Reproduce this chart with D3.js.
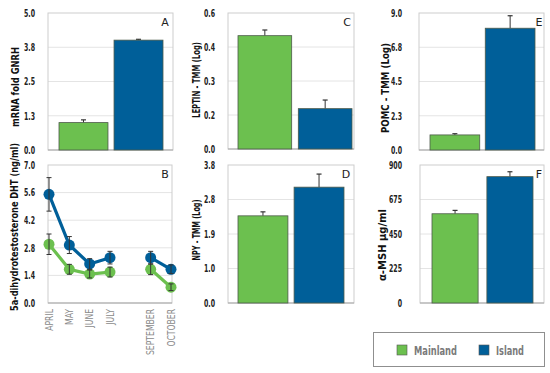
<!DOCTYPE html>
<html>
<head>
<meta charset="utf-8">
<script src="https://cdn.jsdelivr.net/npm/d3@7"></script>
<style>
  body { margin: 0; background: #fff; }
  svg { display: block; font-family: "DejaVu Sans Condensed", "DejaVu Sans", sans-serif; }
  .tick-label { font-size: 10.5px; font-weight: bold; fill: #222; }
  .y-title { font-size: 11px; font-weight: bold; fill: #111; }
  .panel-letter { font-family: "DejaVu Sans", sans-serif; font-size: 11px; fill: #222; }
</style>
</head>
<body>
<svg id="chart" width="550" height="373"></svg>
<script>
// groups and colours
var groups = ["Mainland", "Island"];
var groupColors = ["#6cc04f", "#005f99"];

// A: mRNA fold GNRH
var gnrhMean = [1.0, 4.01];
var gnrhErr = [0.1, 0.03];
var gnrhTicks = [0, 1.25, 2.5, 3.75, 5];
var gnrhLabels = ["0.0", "1.3", "2.5", "3.8", "5.0"];

// B: DHT by month
var months = ["APRIL", "MAY", "JUNE", "JULY", "SEPTEMBER", "OCTOBER"];
var monthNum = [4, 5, 6, 7, 9, 10];
var dhtMainland = [2.98, 1.71, 1.47, 1.57, 1.71, 0.80];
var dhtMainlandErr = [0.52, 0.25, 0.2, 0.25, 0.27, 0.17];
var dhtIsland = [5.51, 2.94, 1.98, 2.30, 2.30, 1.71];
var dhtIslandErr = [0.85, 0.43, 0.27, 0.32, 0.32, 0.22];
var dhtTicks = [0, 1.4, 2.8, 4.2, 5.6, 7];
var dhtLabels = ["0.0", "1.4", "2.8", "4.2", "5.6", "7.0"];

// C: leptin
var leptinMean = [0.50, 0.178];
var leptinErr = [0.025, 0.038];
var leptinTicks = [0, 0.15, 0.3, 0.45, 0.6];
var leptinLabels = ["0.0", "0.2", "0.3", "0.4", "0.6"];

// D: NPY
var npyMean = [2.40, 3.19];
var npyErr = [0.11, 0.36];
var npyTicks = [0, 0.95, 1.9, 2.85, 3.8];
var npyLabels = ["0.0", "1.0", "1.9", "2.8", "3.8"];

// E: POMC
var pomcMean = [0.99, 8.0];
var pomcErr = [0.08, 0.82];
var pomcTicks = [0, 2.25, 4.5, 6.75, 9];
var pomcLabels = ["0.0", "2.3", "4.5", "6.8", "9.0"];

// F: alpha-MSH
var mshMean = [582, 824];
var mshErr = [22, 32];
var mshTicks = [0, 225, 450, 675, 900];
var mshLabels = ["0", "225", "450", "675", "900"];

var svg = d3.select("#chart");

// draws frame, grid and y tick labels for one panel, returns the y scale
function drawFrame(box, ticks, labels, letter, title) {
	var y = d3.scaleLinear().domain([ticks[0], ticks[ticks.length - 1]]).range([box.y1, box.y0]);
	var g = svg.append("g");

	g.selectAll("line.grid").data(ticks.slice(1, -1)).enter().append("line")
		.attr("x1", box.x0).attr("x2", box.x1)
		.attr("y1", function(d) { return y(d); }).attr("y2", function(d) { return y(d); })
		.attr("stroke", "#e4e4e4").attr("stroke-width", 1);

	g.append("rect")
		.attr("x", box.x0).attr("y", box.y0)
		.attr("width", box.x1 - box.x0).attr("height", box.y1 - box.y0)
		.attr("fill", "none").attr("stroke", "#cdcdcd").attr("stroke-width", 1);

	g.append("line")
		.attr("x1", box.x0).attr("x2", box.x1)
		.attr("y1", box.y1).attr("y2", box.y1)
		.attr("stroke", "#a8a8a8").attr("stroke-width", 1.2);

	// condensed tick labels
	g.selectAll("text.tick-label").data(ticks).enter().append("text")
		.attr("class", "tick-label")
		.attr("transform", function(d) { return "translate(" + (box.x0 - box.labelGap) + "," + y(d) + ") scale(0.66,1)"; })
		.attr("dy", "0.36em")
		.attr("text-anchor", "end")
		.text(function(d, i) { return labels[i]; });

	g.append("text").attr("class", "panel-letter")
		.attr("x", box.lx).attr("y", box.y0 + 13)
		.attr("text-anchor", "middle")
		.text(letter);

	g.append("text").attr("class", "y-title")
		.attr("transform", "translate(" + box.tx + "," + box.ty + ") rotate(-90)")
		.attr("text-anchor", "middle")
		.attr("textLength", box.tl)
		.attr("lengthAdjust", "spacingAndGlyphs")
		.text(title);

	return y;
}

function barPanel(box, bandRange, pad, mean, err, ticks, labels, letter, title) {
	var y = drawFrame(box, ticks, labels, letter, title);
	var x = d3.scaleBand().domain(groups).range(bandRange).paddingInner(pad);
	var g = svg.append("g");

	g.selectAll("line.err").data(groups).enter().append("line")
		.attr("x1", function(d) { return x(d) + x.bandwidth() / 2; })
		.attr("x2", function(d) { return x(d) + x.bandwidth() / 2; })
		.attr("y1", function(d, i) { return y(mean[i]); })
		.attr("y2", function(d, i) { return y(mean[i] + err[i]); })
		.attr("stroke", "#333").attr("stroke-width", 1);
	g.selectAll("line.cap").data(groups).enter().append("line")
		.attr("x1", function(d) { return x(d) + x.bandwidth() / 2 - 2.5; })
		.attr("x2", function(d) { return x(d) + x.bandwidth() / 2 + 2.5; })
		.attr("y1", function(d, i) { return y(mean[i] + err[i]); })
		.attr("y2", function(d, i) { return y(mean[i] + err[i]); })
		.attr("stroke", "#333").attr("stroke-width", 1.2);

	g.selectAll("rect").data(groups).enter().append("rect")
		.attr("x", function(d) { return x(d); })
		.attr("width", x.bandwidth())
		.attr("y", function(d, i) { return y(mean[i]); })
		.attr("height", function(d, i) { return y(0) - y(mean[i]); })
		.attr("fill", function(d, i) { return groupColors[i]; })
		.attr("stroke", "#4d5a4a").attr("stroke-width", 0.8);
}

// A
barPanel({x0: 48, x1: 173, y0: 13, y1: 150, labelGap: 13, lx: 165, tx: 19, ty: 87, tl: 80}, [59, 163], 0.11,
	gnrhMean, gnrhErr, gnrhTicks, gnrhLabels, "A", "mRNA fold GNRH");
// C
barPanel({x0: 228, x1: 354, y0: 13, y1: 149, labelGap: 13, lx: 347, tx: 200, ty: 80, tl: 76}, [238, 352], 0.11,
	leptinMean, leptinErr, leptinTicks, leptinLabels, "C", "LEPTIN - TMM (Log)");
// D
barPanel({x0: 228, x1: 354, y0: 165, y1: 303, labelGap: 13, lx: 346, tx: 200, ty: 230, tl: 61}, [238, 344], 0.11,
	npyMean, npyErr, npyTicks, npyLabels, "D", "NPY - TMM (Log)");
// E
barPanel({x0: 419, x1: 544, y0: 13, y1: 150, labelGap: 17, lx: 539, tx: 389, ty: 88, tl: 90}, [430, 535], 0.1,
	pomcMean, pomcErr, pomcTicks, pomcLabels, "E", "POMC - TMM (Log)");
// F
barPanel({x0: 420, x1: 544, y0: 165, y1: 303, labelGap: 18, lx: 539, tx: 386, ty: 245, tl: 72}, [432, 533], 0.16,
	mshMean, mshErr, mshTicks, mshLabels, "F", "\u03b1-MSH \u03bcg/ml");

// B: line panel
(function() {
	var box = {x0: 48, x1: 172, y0: 165, y1: 303, labelGap: 13, lx: 165, tx: 18, ty: 227, tl: 168};
	var y = drawFrame(box, dhtTicks, dhtLabels, "B", "5a-dihydrotestosterone DHT (ng/ml)");
	var x = d3.scaleLinear().domain([monthNum[0], monthNum[monthNum.length - 1]]).range([49, 171]);

	svg.append("g").selectAll("text").data(months).enter().append("text")
		.attr("transform", function(d, i) { return "translate(" + (x(monthNum[i]) + 3.5) + "," + (box.y1 + 6) + ") rotate(-90) scale(0.9,1.15)"; })
		.attr("text-anchor", "end")
		.style("font-size", "9.5px")
		.style("fill", "#8a8a8a")
		.text(function(d) { return d; });

	var series = [
		{vals: dhtMainland, errs: dhtMainlandErr, color: groupColors[0]},
		{vals: dhtIsland, errs: dhtIslandErr, color: groupColors[1]}
	];

	// segments: months 4-7 and 9-10 (no August)
	var segments = [[0, 1, 2, 3], [4, 5]];
	var line = d3.line()
		.x(function(i) { return x(monthNum[i]); });

	series.forEach(function(s) {
		var g = svg.append("g");
		line.y(function(i) { return y(s.vals[i]); });
		g.selectAll("path").data(segments).enter().append("path")
			.attr("d", line)
			.attr("fill", "none")
			.attr("stroke", s.color)
			.attr("stroke-width", 3.2);
		g.selectAll("circle").data(monthNum).enter().append("circle")
			.attr("cx", function(d) { return x(d); })
			.attr("cy", function(d, i) { return y(s.vals[i]); })
			.attr("r", 5.5)
			.attr("fill", s.color);
	});

	// error bars on top of markers
	series.forEach(function(s) {
		var g = svg.append("g").attr("stroke", "#333").attr("stroke-width", 1);
		monthNum.forEach(function(m, i) {
			var cx = x(m), lo = y(s.vals[i] - s.errs[i]), hi = y(s.vals[i] + s.errs[i]);
			g.append("line").attr("x1", cx).attr("x2", cx).attr("y1", lo).attr("y2", hi);
			g.append("line").attr("x1", cx - 2.5).attr("x2", cx + 2.5).attr("y1", lo).attr("y2", lo);
			g.append("line").attr("x1", cx - 2.5).attr("x2", cx + 2.5).attr("y1", hi).attr("y2", hi);
		});
	});
})();

// legend
var legend = svg.append("g");
legend.append("rect")
	.attr("x", 373.5).attr("y", 332.5).attr("width", 171).attr("height", 34)
	.attr("fill", "#fff").attr("stroke", "#8f8f8f").attr("stroke-width", 1);
var legendX = [397, 479];
var legendLen = [43, 28];
groups.forEach(function(name, i) {
	legend.append("rect")
		.attr("x", legendX[i]).attr("y", 345).attr("width", 10).attr("height", 10)
		.attr("fill", groupColors[i]).attr("stroke", "#555").attr("stroke-width", 0.6);
	legend.append("text")
		.attr("x", legendX[i] + 17).attr("y", 355)
		.attr("textLength", legendLen[i])
		.attr("lengthAdjust", "spacingAndGlyphs")
		.style("font-size", "13px").style("font-weight", "bold").style("fill", "#7a7a7a")
		.text(name);
});
</script>
</body>
</html>
